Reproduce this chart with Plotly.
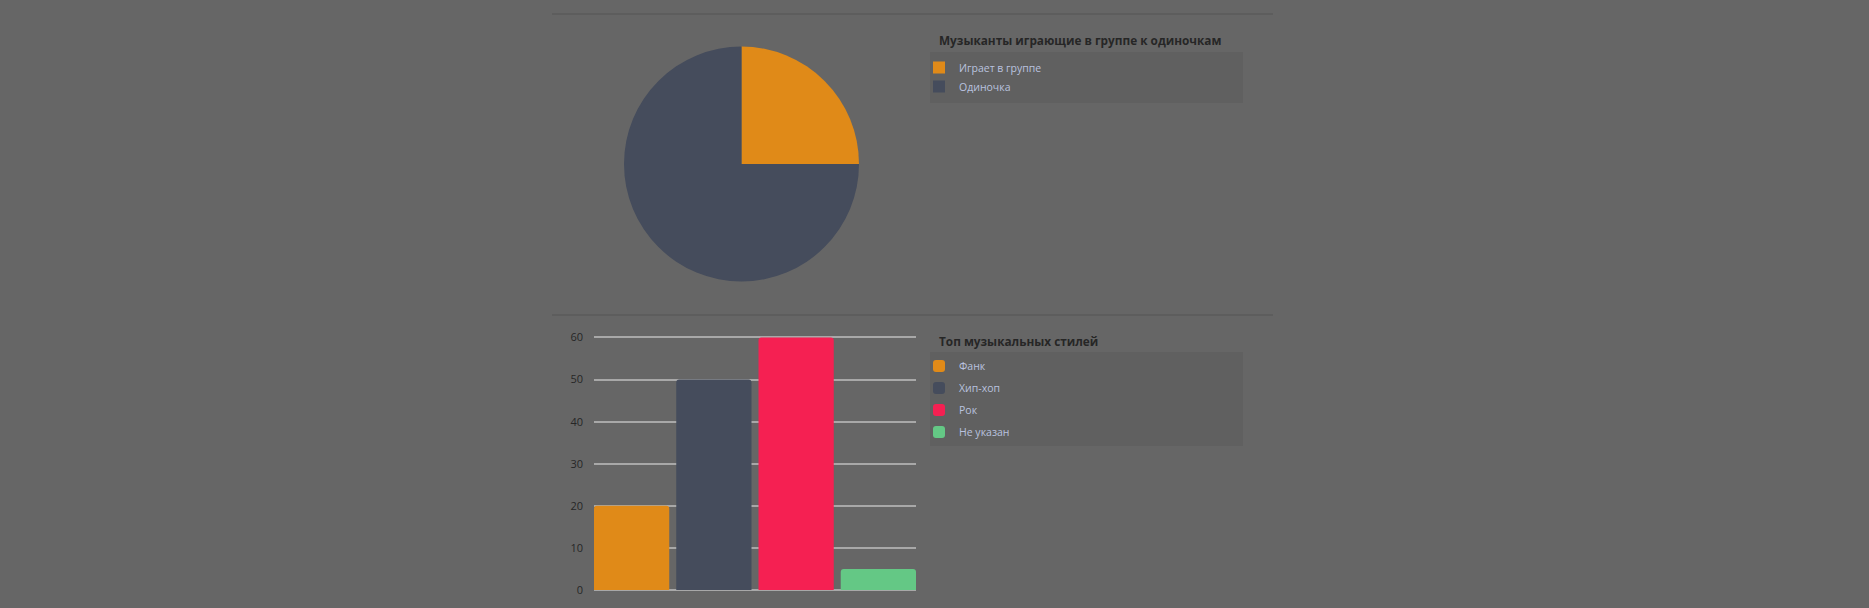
import plotly.graph_objects as go

W, H = 1869, 608

# ---- data ----
pie_title = "Музыканты играющие в группе к одиночкам"
pie_labels = ["Играет в группе", "Одиночка"]
pie_values = [25, 75]
pie_colors = ["#E08A18", "#454C5C"]

bar_title = "Топ музыкальных стилей"
bar_labels = ["Фанк", "Хип-хоп", "Рок", "Не указан"]
bar_values = [20, 50, 60, 5]
bar_colors = ["#E08A18", "#454C5C", "#F52052", "#64C885"]
y_ticks = [0, 10, 20, 30, 40, 50, 60]

BG = "#666666"
BOX = "#606060"
SEP = "#5b5b5b"
GRID = "#a8a8a8"
TEXT_DARK = "#262626"
LEG_TEXT = "#b9c2df"
FONT = "Open Sans"


def px(x):
    return x / W


def py(y):
    return 1 - y / H


fig = go.Figure()

fig.add_trace(go.Pie(
    labels=pie_labels, values=pie_values,
    marker=dict(colors=pie_colors, line=dict(width=0)),
    sort=False, direction="clockwise", rotation=0,
    textinfo="none", hoverinfo="label+value", automargin=False,
    domain=dict(x=[px(624), px(859)], y=[py(281.5), py(46.5)]),
    legend="legend",
))

for lab, val, col in zip(bar_labels, bar_values, bar_colors):
    fig.add_trace(go.Bar(
        x=[lab], y=[val], name=lab,
        marker=dict(color=col, line=dict(width=0), cornerradius=3),
        legend="legend2", legendgroup=lab,
    ))

shapes = [
    dict(type="line", xref="paper", yref="paper", x0=px(552), x1=px(1273),
         y0=py(14), y1=py(14), line=dict(color=SEP, width=1.5)),
    dict(type="line", xref="paper", yref="paper", x0=px(552), x1=px(1273),
         y0=py(315), y1=py(315), line=dict(color=SEP, width=1.5)),
    dict(type="rect", xref="paper", yref="paper", x0=px(930), x1=px(1243),
         y0=py(103), y1=py(52), fillcolor=BOX, line=dict(width=0), layer="below"),
    dict(type="rect", xref="paper", yref="paper", x0=px(930), x1=px(1243),
         y0=py(446), y1=py(352), fillcolor=BOX, line=dict(width=0), layer="below"),
]

annotations = [
    dict(text="<b>" + pie_title + "</b>", xref="paper", yref="paper",
         x=px(937), y=py(40), xanchor="left", yanchor="middle", showarrow=False,
         font=dict(family=FONT, size=11.8, color=TEXT_DARK)),
    dict(text="<b>" + bar_title + "</b>", xref="paper", yref="paper",
         x=px(937), y=py(341), xanchor="left", yanchor="middle", showarrow=False,
         font=dict(family=FONT, size=11.8, color=TEXT_DARK)),
]

leg_common = dict(
    bgcolor="rgba(0,0,0,0)", borderwidth=0,
    font=dict(family=FONT, size=10.5, color=LEG_TEXT),
    xanchor="left", yanchor="top", itemclick=False, itemdoubleclick=False,
)

# y range slightly above 60 so the top gridline is drawn
y_top = 60.3
y0_px, y60_px = 590, 337.5
top_px = y0_px - y_top * (y0_px - y60_px) / 60

# bars touch the plot edges, gaps only between bars
GAP = 0.085
half = (1 - GAP) / 2
x_range = [-half, len(bar_labels) - 1 + half]

fig.update_layout(
    width=W, height=H,
    margin=dict(l=0, r=0, t=0, b=0, pad=0, autoexpand=False),
    paper_bgcolor=BG, plot_bgcolor=BG,
    font=dict(family=FONT, color=TEXT_DARK),
    showlegend=True,
    barmode="relative", bargap=GAP,
    shapes=shapes, annotations=annotations,
    legend=dict(x=px(919), y=py(53), **leg_common),
    legend2=dict(x=px(919), y=py(351.5), traceorder="grouped", tracegroupgap=3,
                 **leg_common),
    xaxis=dict(domain=[px(594), px(916)], range=x_range, showticklabels=False,
               showgrid=False, zeroline=False, showline=False, ticks="",
               automargin=False),
    yaxis=dict(domain=[py(y0_px), py(top_px)], range=[0, y_top], automargin=False,
               tickmode="array", tickvals=y_ticks, ticktext=[str(t) for t in y_ticks],
               showgrid=True, gridcolor=GRID, gridwidth=2,
               zeroline=True, zerolinecolor=GRID, zerolinewidth=2,
               showline=False, ticks="", ticklabelstandoff=10,
               tickfont=dict(family=FONT, size=11, color=TEXT_DARK)),
)

fig.write_html(
    "out.html",
    config={"displayModeBar": False},
    post_script="document.body.style.margin='0';document.body.style.overflow='hidden';",
)
